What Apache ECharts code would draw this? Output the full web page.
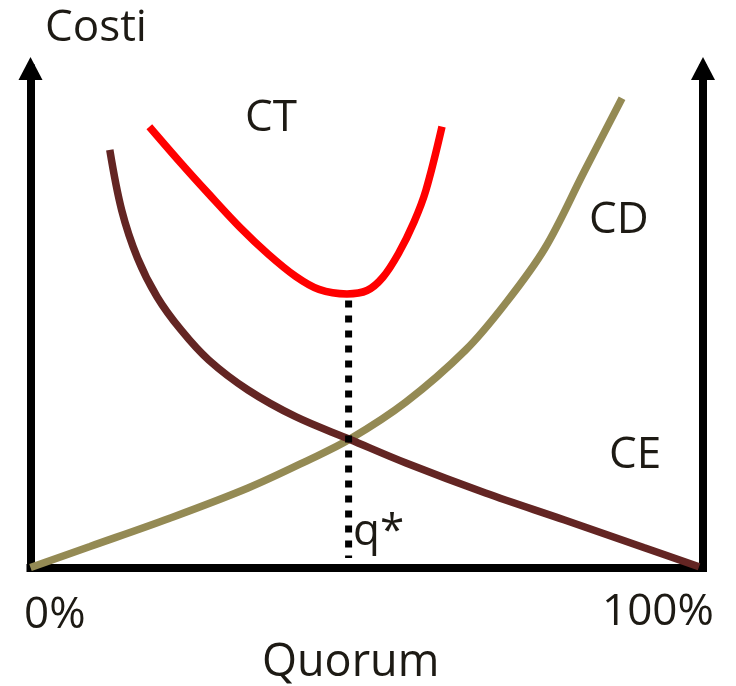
<!DOCTYPE html>
<html>
<head>
<meta charset="utf-8">
<script src="https://cdn.jsdelivr.net/npm/echarts@6/dist/echarts.min.js"></script>
<style>
  html, body { margin: 0; padding: 0; background: #fff; }
  #chart { width: 736px; height: 686px; }
</style>
</head>
<body>
<div id="chart"></div>
<script>
// ---- Data (x: quorum %, y: cost, arbitrary units) ----
const ctX = [17.67, 22.38, 26.50, 31.15, 35.32, 39.43, 42.90, 47.06, 50.04, 52.37, 54.72, 57.03, 58.81, 61.19];
const ctY = [88.34, 81.02, 74.87, 68.16, 62.83, 58.34, 55.73, 54.83, 55.51, 58.12, 62.93, 69.24, 75.65, 88.34];

const cdX = [0, 8.85, 20.59, 32.34, 41.19, 47.51, 55.84, 64.71, 70.56, 76.51, 82.30, 87.96];
const cdY = [0, 4.21, 9.82, 15.93, 21.44, 25.75, 33.17, 43.59, 52.81, 64.03, 79.26, 94.03];

const ceX = [11.79, 13.55, 15.91, 18.81, 22.38, 26.50, 32.34, 39.43, 47.51, 55.84, 67.66, 79.42, 91.18, 99.41];
const ceY = [83.67, 71.64, 62.02, 54.27, 47.60, 41.58, 35.57, 30.22, 25.65, 20.94, 14.93, 9.52, 4.01, 0.16];

const qStarX = [47.3, 47.3];
const qStarY = [53.5, 1.9];

const tickLabels = ['0%', '100%'];
const axisNames = { y: 'Costi', x: 'Quorum' };
const curveNames = ['CT', 'CD', 'CE', 'q*'];

const zip = (xs, ys) => xs.map((x, i) => [x, ys[i]]);

const TEXT = '#1d1a14';
const FONT = '44px "Open Sans"';
const OFF = 39; // baseline -> top offset

const chart = echarts.init(document.getElementById('chart'), null, { renderer: 'canvas' });

const axisArrow = {
  show: true,
  onZero: false,
  symbol: ['none', 'triangle'],
  symbolSize: [24, 23],
  lineStyle: { color: '#000', width: 8, cap: 'square' }
};

chart.setOption({
  animation: false,
  backgroundColor: '#fff',
  grid: { left: 30.5, right: 33, top: 68.5, bottom: 118.5, containLabel: false },
  xAxis: {
    type: 'value', min: 0, max: 100,
    axisLine: { show: true, onZero: false, lineStyle: { color: '#000', width: 8, cap: 'square' } },
    axisTick: { show: false }, axisLabel: { show: false }, splitLine: { show: false }
  },
  yAxis: [
    { type: 'value', min: 0, max: 100, position: 'left',
      axisLine: axisArrow, axisTick: { show: false }, axisLabel: { show: false }, splitLine: { show: false } },
    { type: 'value', min: 0, max: 100, position: 'right',
      axisLine: axisArrow, axisTick: { show: false }, axisLabel: { show: false }, splitLine: { show: false } }
  ],
  series: [
    { name: curveNames[1], type: 'line', data: zip(cdX, cdY), smooth: 0.35, symbol: 'none', clip: false,
      lineStyle: { color: '#948A54', width: 7.5 }, z: 2 },
    { name: curveNames[2], type: 'line', data: zip(ceX, ceY), smooth: 0.35, symbol: 'none', clip: false,
      lineStyle: { color: '#632523', width: 7.5 }, z: 3 },
    { name: curveNames[3], type: 'line', data: zip(qStarX, qStarY), symbol: 'none', clip: false,
      lineStyle: { color: '#000', width: 7, type: [7, 8], cap: 'butt' }, z: 4 },
    { name: curveNames[0], type: 'line', data: zip(ctX, ctY), smooth: 0.35, symbol: 'none', clip: false,
      lineStyle: { color: '#FF0000', width: 7.5 }, z: 5 }
  ],
  graphic: [
    { type: 'text', left: 45, top: 45 - OFF, style: { text: axisNames.y, font: FONT, fill: TEXT } },
    { type: 'text', left: 262, top: 680 - OFF, style: { text: axisNames.x, font: '45px "Open Sans"', fill: TEXT } },
    { type: 'text', left: 24, top: 632 - OFF, style: { text: tickLabels[0], font: FONT, fill: TEXT } },
    { type: 'text', left: 602, top: 629 - OFF, style: { text: tickLabels[1], font: FONT, fill: TEXT } },
    { type: 'text', left: 245, top: 135 - OFF, style: { text: curveNames[0], font: FONT, fill: TEXT } },
    { type: 'text', left: 589, top: 237 - OFF, style: { text: curveNames[1], font: FONT, fill: TEXT } },
    { type: 'text', left: 609, top: 472 - OFF, style: { text: curveNames[2], font: FONT, fill: TEXT } },
    { type: 'text', left: 353, top: 549 - OFF, style: { text: curveNames[3], font: FONT, fill: TEXT } }
  ]
});
</script>
</body>
</html>
